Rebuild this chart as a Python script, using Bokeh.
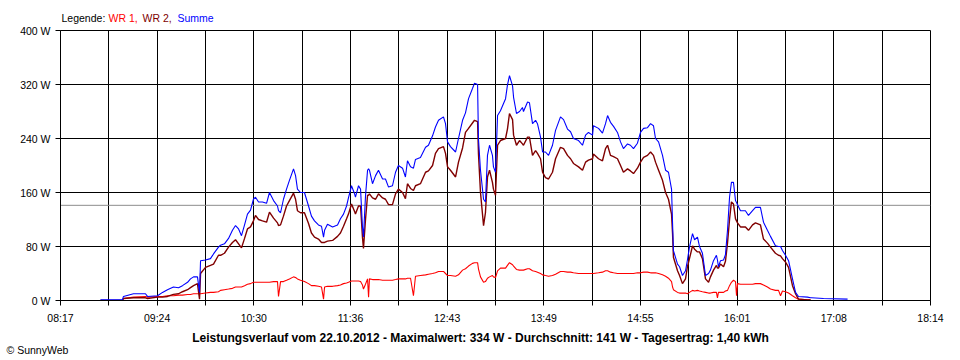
import numpy as np
from bokeh.plotting import figure
from bokeh.layouts import column
from bokeh.models import (ColumnDataSource, Range1d, FixedTicker, PrintfTickFormatter,
                          CustomJSTickFormatter, Span)
from bokeh.core.properties import value
from bokeh.embed import file_html
from bokeh.resources import INLINE

FONT = "Liberation Sans"
nan = float("nan")

# time in minutes since midnight
time_min = [
    524.4, 539.5, 540.2, 547.1, 555.3, 556.7, 563.6, 567.0, 570.4, 574.5,
    578.0, 580.7, 584.2, 586.2, 588.3, 591.0, 592.4, 593.1, 596.5, 599.9,
    602.0, 605.4, 606.8, 609.5, 612.3, 615.0, 617.1, 619.2, 621.2, 623.3,
    625.3, 627.4, 629.4, 630.8, 632.9, 635.6, 638.4, 640.4, 643.2, 645.9,
    646.6, 648.0, 650.0, 652.1, 654.1, 656.9, 658.3, 659.6, 661.7, 664.4,
    667.2, 669.2, 671.3, 674.0, 676.1, 677.5, 678.2, 680.2, 683.7, 687.1,
    689.1, 691.2, 693.3, 694.6, 696.7, 698.8, 699.4, 701.5, 702.9, 704.2,
    704.9, 706.3, 707.7, 708.4, 709.0, 711.1, 713.2, 715.2, 718.0, 720.0,
    722.1, 724.8, 726.9, 728.9, 731.7, 733.7, 735.1, 737.2, 739.2, 740.6,
    744.0, 747.5, 749.5, 752.3, 754.3, 756.4, 759.8, 761.2, 762.6, 764.6,
    768.1, 770.1, 772.9, 774.9, 777.0, 779.7, 781.1, 783.2, 783.8, 785.2,
    787.3, 788.6, 790.0, 791.4, 793.4, 794.1, 795.5, 796.9, 798.9, 802.4,
    803.7, 805.1, 807.2, 807.9, 809.9, 812.0, 814.0, 814.7, 817.5, 818.8,
    820.9, 823.0, 824.3, 826.4, 827.8, 829.8, 831.9, 834.6, 836.7, 840.1,
    842.2, 844.9, 847.0, 849.0, 852.5, 855.2, 857.3, 859.3, 862.1, 862.7,
    866.2, 868.9, 871.0, 872.4, 874.4, 876.5, 879.2, 881.3, 883.3, 886.1,
    888.1, 890.2, 892.9, 895.0, 897.1, 899.8, 901.9, 903.9, 905.3, 907.4,
    910.1, 912.2, 914.2, 916.3, 917.0, 917.6, 920.4, 921.8, 923.8, 925.9,
    927.2, 928.6, 930.7, 932.1, 934.1, 935.5, 937.5, 939.6, 941.7, 943.0,
    945.1, 947.1, 947.8, 948.5, 949.9, 952.0, 953.3, 954.7, 956.1, 957.4,
    958.8, 960.2, 960.9, 961.6, 963.6, 967.0, 969.1, 971.9, 973.9, 977.3,
    979.4, 982.1, 984.2, 987.6, 989.7, 991.1, 992.4, 994.5, 996.6, 999.3,
    1001.4, 1003.4, 1009.6, 1011.7, 1012.4, 1020.6, 1037.1,
]

# WR 1 (W)
wr1 = [
    0, 0, 3, 5, 6, 5, 6, 6, 7, 7,
    8, 8, 9, 9, 10, 10, 10, 10, 11, 12,
    12, 13, 15, 16, 17, 18, 20, 20, 20, 22,
    24, 25, 27, 27, 27, 27, 27, 27, 28, 28,
    6, 28, 28, 30, 32, 35, 34, 32, 30, 28,
    25, 22, 22, 21, 20, 2, 20, 21, 21, 22,
    23, 25, 26, 27, 29, 29, 29, 29, 28, 23,
    17, 24, 32, 5, 32, 31, 31, 31, 30, 30,
    30, 30, 31, 32, 32, 32, 33, 33, 7, 36,
    37, 38, 39, 40, 41, 43, 43, 40, 37, 37,
    36, 38, 45, 47, 51, 55, 56, 56, 47, 35,
    27, 28, 33, 35, 37, 35, 34, 44, 48, 48,
    52, 56, 53, 51, 46, 45, 45, 45, 47, 47,
    44, 43, 42, 40, 38, 37, 36, 37, 39, 43,
    43, 42, 42, 41, 40, 40, 40, 40, 40, 40,
    41, 42, 44, 44, 42, 41, 40, 40, 40, 40,
    40, 40, 41, 41, 42, 42, 41, 41, 41, 40,
    38, 36, 33, 28, 20, 16, 12, 11, 11, 11,
    10, 12, 15, 14, 15, 14, 13, 12, 11, 11,
    12, 12, 4, 12, 12, 12, 14, 15, 22, 27,
    30, 28, 7, 25, 24, 24, 24, 24, 25, 25,
    23, 20, 17, 15, 15, 7, 14, 13, 11, 7,
    4, 2, 1, 1, nan, nan, nan,
]

# WR 2 (W)
wr2 = [
    0, 0, 3, 4, 4, 3, 5, 5, 6, 9,
    10, 13, 16, 19, 22, 25, 2, 40, 49, 52,
    54, 67, 67, 70, 79, 86, 90, 84, 78, 92,
    106, 109, 118, 126, 120, 118, 116, 131, 122, 115,
    111, 112, 125, 140, 148, 159, 150, 133, 130, 130,
    114, 100, 94, 91, 86, 86, 86, 88, 89, 95,
    100, 110, 121, 128, 143, 132, 128, 140, 140, 94,
    77, 120, 156, 156, 158, 152, 150, 158, 152, 150,
    142, 142, 158, 165, 160, 151, 173, 166, 163, 170,
    173, 190, 192, 200, 218, 225, 228, 218, 198, 193,
    183, 205, 226, 249, 255, 263, 267, 265, 218, 160,
    111, 130, 183, 193, 175, 165, 156, 230, 237, 240,
    254, 277, 268, 245, 230, 237, 232, 230, 242, 242,
    215, 222, 218, 210, 190, 182, 180, 190, 210, 227,
    225, 215, 210, 203, 198, 193, 205, 208, 210, 217,
    210, 207, 225, 230, 215, 213, 210, 200, 190, 195,
    192, 188, 196, 205, 212, 215, 220, 215, 205, 193,
    178, 160, 150, 128, 99, 64, 44, 37, 25, 32,
    50, 62, 81, 76, 72, 72, 62, 32, 27, 35,
    45, 52, 48, 48, 54, 50, 58, 85, 120, 146,
    143, 121, 118, 115, 109, 109, 104, 112, 115, 112,
    91, 85, 79, 70, 67, 66, 62, 57, 49, 22,
    10, 2, 1, 1, nan, nan, nan,
]

# Summe (W)
summe = [
    1, 1, 6, 10, 10, 6, 7, 12, 16, 20,
    19, 22, 27, 32, 35, 35, 12, 59, 60, 62,
    69, 79, 82, 84, 92, 104, 111, 106, 96, 112,
    128, 134, 150, 153, 146, 146, 144, 160, 148, 140,
    133, 130, 150, 165, 178, 195, 185, 165, 160, 160,
    140, 125, 118, 112, 110, 94, 104, 113, 109, 112,
    121, 128, 140, 152, 170, 158, 153, 170, 165, 109,
    94, 155, 193, 195, 193, 173, 185, 193, 180, 180,
    168, 170, 190, 200, 196, 183, 207, 198, 196, 209,
    212, 227, 230, 244, 257, 267, 272, 262, 235, 228,
    220, 240, 267, 278, 299, 314, 322, 320, 240, 193,
    150, 146, 215, 230, 215, 198, 190, 274, 281, 299,
    319, 333, 318, 301, 277, 280, 286, 280, 294, 293,
    262, 267, 262, 242, 220, 220, 215, 230, 252, 272,
    268, 254, 250, 240, 237, 230, 245, 249, 245, 259,
    255, 248, 262, 274, 264, 258, 249, 235, 225, 232,
    230, 225, 233, 249, 255, 256, 262, 259, 240, 235,
    215, 193, 190, 165, 114, 74, 54, 50, 37, 44,
    60, 79, 99, 90, 94, 80, 70, 37, 40, 45,
    59, 67, 60, 50, 59, 60, 68, 104, 153, 175,
    175, 148, 145, 142, 133, 133, 126, 133, 138, 138,
    116, 104, 95, 81, 80, 80, 74, 67, 59, 32,
    12, 6, 5, 4, 4, 3, 2,
]

x_tick_labels = ["08:17", "09:24", "10:30", "11:36", "12:43",
                 "13:49", "14:55", "16:01", "17:08", "18:14"]
x_start, x_end = 497.0, 1094.0
y_ticks = [0, 80, 160, 240, 320, 400]
average_w = 141

legend_texts = ["Legende:", "WR 1,", "WR 2,", "Summe"]
legend_colors = ["#000000", "#ff0000", "#800000", "#0000ff"]
title_text = ("Leistungsverlauf vom 22.10.2012 - Maximalwert: 334 W - "
              "Durchschnitt: 141 W - Tagesertrag: 1,40 kWh")
copyright_text = "\u00a9 SunnyWeb"

W = 960


def text_strip(height):
    f = figure(width=W, height=height, output_backend="svg", toolbar_location=None,
               x_range=Range1d(0, W), y_range=Range1d(0, height),
               x_axis_type=None, y_axis_type=None,
               min_border=0, min_border_left=0, min_border_right=0,
               min_border_top=0, min_border_bottom=0)
    f.frame_align = False
    f.grid.visible = False
    f.outline_line_color = None
    f.background_fill_color = "white"
    f.border_fill_color = "white"
    return f


# ---- top strip: coloured legend text ----
top = text_strip(24)
top.text(x=[61, 108, 142, 177], y=[7, 7, 7, 7], text=legend_texts,
         text_color=legend_colors, text_font=value(FONT),
         text_font_size=value("10.5px"), text_baseline="middle", text_align="left")

# ---- main chart ----
src = ColumnDataSource(dict(t=np.array(time_min, dtype=float),
                            wr1=np.array(wr1, dtype=float),
                            wr2=np.array(wr2, dtype=float),
                            summe=np.array(summe, dtype=float)))

p = figure(width=W, height=306, output_backend="svg", toolbar_location=None,
           x_range=Range1d(x_start, x_end), y_range=Range1d(0, 400),
           min_border_left=60, min_border_right=30, min_border_top=6,
           min_border_bottom=30)
p.frame_align = False
p.outline_line_color = "black"
p.background_fill_color = "white"
p.border_fill_color = "white"

n_half = 2 * len(x_tick_labels) - 1
step = (x_end - x_start) / (n_half - 1)
x_ticks = [x_start + i * step for i in range(n_half)]
p.xaxis.ticker = FixedTicker(ticks=x_ticks)
p.xaxis.formatter = CustomJSTickFormatter(
    args=dict(labels=x_tick_labels, x0=x_start, step=step),
    code="""
    const i = Math.round((tick - x0) / step);
    if (i % 2 != 0) return "";
    const l = labels[i / 2];
    return l === undefined ? "" : l;
    """)
p.yaxis.ticker = FixedTicker(ticks=y_ticks)
p.yaxis.formatter = PrintfTickFormatter(format="%d W")

for ax in (p.xaxis[0], p.yaxis[0]):
    ax.axis_line_color = "black"
    ax.axis_line_width = 1
    ax.major_tick_line_color = "black"
    ax.major_tick_out = 5
    ax.major_tick_in = 0
    ax.minor_tick_line_color = None
    ax.major_label_text_font = FONT
    ax.major_label_text_font_size = "10.5px"
    ax.major_label_text_color = "black"
p.xaxis.major_label_standoff = 6
p.yaxis.major_label_standoff = 5

for g in (p.xgrid[0], p.ygrid[0]):
    g.grid_line_color = "black"
    g.grid_line_alpha = 1.0
    g.grid_line_width = 1

p.add_layout(Span(location=average_w, dimension="width", line_color="#8c8c8c",
                  line_width=1, level="underlay"))

p.line(x="t", y="wr1", source=src, line_color="#ff0000", line_width=1.1)
p.line(x="t", y="wr2", source=src, line_color="#800000", line_width=1.4)
p.line(x="t", y="summe", source=src, line_color="#0000ff", line_width=1.1)

# ---- bottom strip: summary title and copyright ----
bottom = text_strip(30)
bottom.text(x=[480], y=[23], text=[title_text], text_color="black",
            text_font=value(FONT), text_font_size=value("12px"),
            text_font_style="bold", text_baseline="middle", text_align="center")
bottom.text(x=[6], y=[11], text=[copyright_text], text_color="black",
            text_font=value(FONT), text_font_size=value("10.5px"),
            text_baseline="middle", text_align="left")

layout = column(top, p, bottom, spacing=0)
open("out.html", "w").write(file_html(layout, INLINE))
